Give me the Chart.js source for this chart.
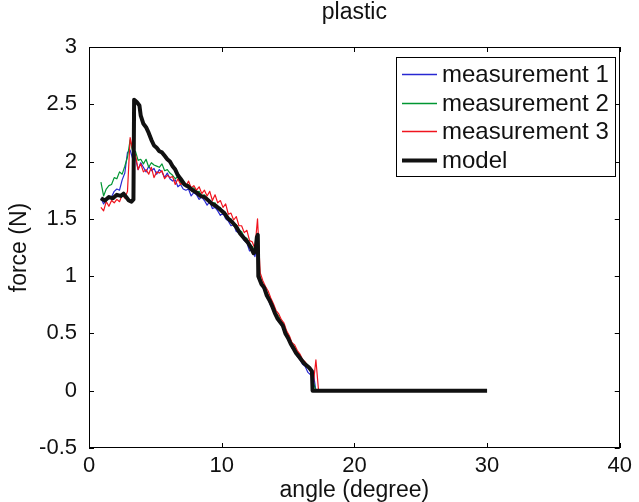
<!DOCTYPE html>
<html>
<head>
<meta charset="utf-8">
<script src="https://cdn.jsdelivr.net/npm/chart.js@4"></script>
<style>
html,body{margin:0;padding:0;background:#fff;}
#wrap{width:639px;height:502px;position:relative;}
</style>
</head>
<body>
<div id="wrap"><canvas id="c" width="639" height="502"></canvas></div>
<script>
const chartTitle = 'plastic';
const xTitle = 'angle (degree)';
const yTitle = 'force (N)';
const seriesNames = ['measurement 1', 'measurement 2', 'measurement 3', 'model'];
const seriesColors = ['rgb(40,40,210)', 'rgb(0,150,50)', 'rgb(240,20,30)', '#111111'];
const xTicks = [0, 10, 20, 30, 40];
const yTicks = [-0.5, 0, 0.5, 1, 1.5, 2, 2.5, 3];

const angle = [
  0.9,1.1,1.3,1.5,1.7,1.9,2.1,2.3,2.5,2.7,2.9,3.1,3.3,
  3.5,3.7,3.9,4.1,4.3,4.5,4.7,4.9,5.1,5.3,
  5.5,5.7,5.9,6.1,6.3,6.5,6.7,6.9,7.1,7.3,
  7.5,7.7,7.9,8.1,8.3,8.5,8.7,8.9,9.1,9.3,
  9.5,9.7,9.9,10.1,10.3,10.5,10.7,10.9,11.1,11.3,
  11.5,11.7,11.9,12.1,12.3,12.5,12.7,12.9,13.1,13.3,
  13.5,13.7,13.9,14.1,14.3,14.5,14.7,14.9,15.1,15.3,
  15.5,15.7,15.9,16.1,16.3,16.5,16.7,16.9,17.1,17.3
];
const measurement1 = [
  1.68,1.63,1.67,1.70,1.69,1.74,1.76,1.75,1.84,1.90,2.08,2.10,2.02,
  2.03,1.93,1.99,1.95,1.91,1.96,1.92,1.94,1.89,1.93,
  1.91,1.86,1.90,1.85,1.83,1.84,1.78,1.80,1.76,1.75,
  1.76,1.70,1.73,1.71,1.67,1.69,1.66,1.62,1.65,1.59,
  1.60,1.57,1.53,1.55,1.50,1.48,1.44,1.45,1.39,1.38,
  1.35,1.31,1.29,1.22,1.24,1.17,1.28,0.95,0.90,0.85,
  0.80,0.74,0.71,0.64,0.61,0.57,0.53,0.47,0.43,0.37,
  0.35,0.30,0.27,0.23,0.21,0.16,0.14,0.16,0.00,0.00
];
const measurement2 = [
  1.82,1.70,1.76,1.79,1.80,1.86,1.85,1.91,1.89,1.96,2.04,2.19,2.08,
  2.09,2.01,2.02,1.98,2.02,1.95,1.99,1.97,1.96,1.95,
  1.98,1.92,1.93,1.90,1.88,1.85,1.87,1.81,1.80,1.79,
  1.80,1.76,1.77,1.73,1.74,1.70,1.71,1.67,1.66,1.64,
  1.64,1.60,1.60,1.56,1.55,1.50,1.50,1.45,1.45,1.40,
  1.39,1.34,1.33,1.28,1.26,1.22,1.34,0.99,0.93,0.89,
  0.84,0.79,0.74,0.68,0.65,0.60,0.57,0.51,0.47,0.41,
  0.38,0.34,0.31,0.26,0.23,0.20,0.17,0.08,0.00,0.00
];
const measurement3 = [
  1.60,1.57,1.65,1.61,1.66,1.64,1.67,1.65,1.71,1.68,1.74,2.21,2.10,
  2.06,1.93,1.98,1.91,1.93,1.89,1.95,1.86,1.91,1.90,
  1.92,1.85,1.88,1.86,1.87,1.80,1.85,1.80,1.82,1.78,
  1.83,1.77,1.79,1.75,1.78,1.72,1.75,1.70,1.74,1.66,
  1.71,1.64,1.66,1.60,1.63,1.54,1.55,1.49,1.52,1.44,
  1.44,1.38,1.40,1.31,1.30,1.24,1.50,1.03,0.96,0.91,
  0.87,0.81,0.76,0.70,0.67,0.62,0.59,0.52,0.48,0.42,
  0.40,0.35,0.32,0.27,0.25,0.21,0.19,0.05,0.27,0.00
];
const modelAngle = [
  0.9,1.2,1.5,1.8,2.1,2.4,2.6,2.8,3.0,3.2,3.35,3.4,3.6,3.8,3.9,4.1,4.3,4.5,4.7,4.9,
  5.1,5.3,5.5,5.7,5.9,6.1,6.3,6.5,6.7,6.9,7.2,7.5,7.8,8.1,8.4,8.7,9.0,9.3,9.6,9.9,
  10.2,10.5,10.8,11.1,11.4,11.7,12.0,12.2,12.4,12.55,12.65,12.72,12.76,13.0,13.2,13.4,13.6,13.8,14.0,14.2,
  14.4,14.6,14.8,15.0,15.2,15.4,15.6,15.8,16.0,16.2,16.4,16.6,16.8,16.85,
  20.0,25.0,30.0
];
const modelForce = [
  1.68,1.66,1.69,1.68,1.71,1.70,1.72,1.69,1.66,1.65,1.67,2.54,2.52,2.49,2.40,2.33,2.30,2.25,2.19,2.14,
  2.12,2.09,2.08,2.05,2.02,2.00,1.96,1.93,1.88,1.85,1.80,1.78,1.75,1.73,1.70,1.69,1.66,1.63,1.61,1.58,
  1.55,1.50,1.47,1.43,1.37,1.33,1.29,1.25,1.20,1.22,1.34,1.36,1.00,0.93,0.90,0.83,0.79,0.74,0.68,0.63,
  0.60,0.57,0.50,0.46,0.41,0.37,0.33,0.30,0.27,0.24,0.22,0.20,0.17,0.00,
  0.00,0.00,0.00
];

const FONT = "'Liberation Sans', Arial, Helvetica, sans-serif";
const pts = (xs, ys) => xs.map((v, i) => ({x: v, y: ys[i]}));

const framePlugin = {
  id: 'frameLegend',
  afterDatasetsDraw(chart) {
    const {ctx, chartArea: a, scales} = chart;
    const xs = scales.x, ys = scales.y;
    ctx.save();
    ctx.strokeStyle = '#000';
    ctx.lineWidth = 1;
    ctx.strokeRect(Math.round(a.left) + 0.5, Math.round(a.top) + 0.5,
      Math.round(a.right - a.left) - 1, Math.round(a.bottom - a.top) - 1);
    ctx.beginPath();
    const tl = 5;
    xTicks.forEach(v => {
      const px = Math.round(xs.getPixelForValue(v)) + 0.5;
      ctx.moveTo(px, a.bottom); ctx.lineTo(px, a.bottom - tl);
      ctx.moveTo(px, a.top); ctx.lineTo(px, a.top + tl);
    });
    yTicks.forEach(v => {
      const py = Math.round(ys.getPixelForValue(v)) + 0.5;
      ctx.moveTo(a.left, py); ctx.lineTo(a.left + tl, py);
      ctx.moveTo(a.right, py); ctx.lineTo(a.right - tl, py);
    });
    ctx.stroke();

    // legend box
    const bx = 396, by = 57, bw = 219, bh = 119;
    ctx.fillStyle = '#fff';
    ctx.fillRect(bx, by, bw, bh);
    ctx.strokeStyle = '#000';
    ctx.lineWidth = 1;
    ctx.strokeRect(bx + 0.5, by + 0.5, bw, bh);
    ctx.font = '24px ' + FONT;
    ctx.textBaseline = 'middle';
    ctx.textAlign = 'left';
    seriesNames.forEach((name, i) => {
      const cy = Math.round(by + 17 + i * 28.7);
      ctx.strokeStyle = seriesColors[i];
      ctx.lineWidth = i === 3 ? 4 : 1.6;
      ctx.beginPath();
      ctx.moveTo(bx + 6, cy + 0.5);
      ctx.lineTo(bx + 41, cy + 0.5);
      ctx.stroke();
      ctx.fillStyle = '#111';
      ctx.fillText(name, bx + 46, cy + 1);
    });
    ctx.restore();
  }
};

new Chart(document.getElementById('c'), {
  type: 'line',
  data: {
    datasets: [
      {label: seriesNames[0], data: pts(angle, measurement1), borderColor: seriesColors[0], borderWidth: 1.2, order: 3},
      {label: seriesNames[1], data: pts(angle, measurement2), borderColor: seriesColors[1], borderWidth: 1.2, order: 2},
      {label: seriesNames[2], data: pts(angle, measurement3), borderColor: seriesColors[2], borderWidth: 1.2, order: 1},
      {label: seriesNames[3], data: pts(modelAngle, modelForce), borderColor: seriesColors[3], borderWidth: 4, order: 0}
    ]
  },
  options: {
    responsive: false,
    animation: false,
    devicePixelRatio: 1,
    layout: {padding: {left: 0, right: 14, top: 0, bottom: 0}},
    elements: {point: {radius: 0}, line: {tension: 0, fill: false, borderJoinStyle: 'round'}},
    plugins: {
      legend: {display: false},
      tooltip: {enabled: false},
      title: {
        display: true, text: chartTitle, color: '#111', fullSize: false,
        font: {family: FONT, size: 23, weight: 'normal', lineHeight: 1.0},
        padding: {top: 1, bottom: 23}
      }
    },
    scales: {
      x: {
        type: 'linear', min: 0, max: 40,
        afterBuildTicks: s => { s.ticks = xTicks.map(v => ({value: v})); },
        afterFit: s => { s.height = 54; },
        grid: {display: false, drawTicks: false},
        border: {display: false},
        ticks: {color: '#111', padding: 7, maxRotation: 0, font: {family: FONT, size: 22, lineHeight: 1.0}, callback: v => String(v)},
        title: {display: true, text: xTitle, color: '#111', font: {family: FONT, size: 23, lineHeight: 1.0}, padding: {top: 0, bottom: 0}}
      },
      y: {
        type: 'linear', min: -0.5, max: 3,
        afterBuildTicks: s => { s.ticks = yTicks.map(v => ({value: v})); },
        afterFit: s => { s.width = 89; },
        grid: {display: false, drawTicks: false},
        border: {display: false},
        ticks: {color: '#111', padding: 12, font: {family: FONT, size: 22, lineHeight: 1.0}, callback: v => String(v)},
        title: {display: true, text: yTitle, color: '#111', font: {family: FONT, size: 23, lineHeight: 1.0}, padding: {top: 8, bottom: 0}}
      }
    }
  },
  plugins: [framePlugin]
});
</script>
</body>
</html>
